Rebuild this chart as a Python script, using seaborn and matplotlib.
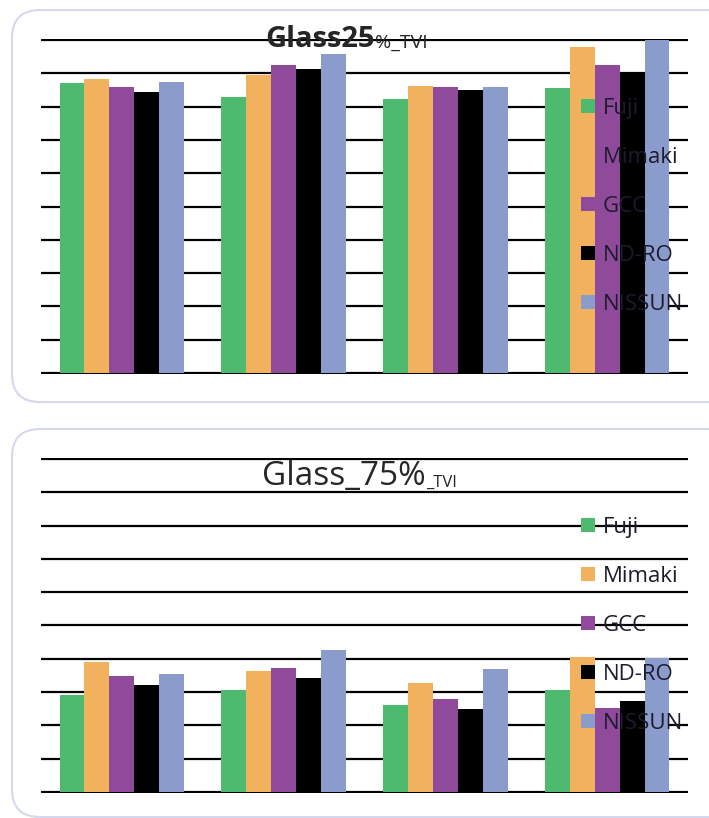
import numpy as np
import pandas as pd
import seaborn as sns
import matplotlib.pyplot as plt
from matplotlib.patches import Patch, FancyBboxPatch

# data (no axis labels shown, grid = 0..10)
groups = ["G1", "G2", "G3", "G4"]
printers = ["Fuji", "Mimaki", "GCC", "ND-RO", "NISSUN"]
colors = ["#4dba70", "#f2b15c", "#8f4a9b", "#000000", "#8b9bcc"]

fuji_25 = [8.72, 8.30, 8.24, 8.57]
mimaki_25 = [8.84, 8.95, 8.63, 9.78]
gcc_25 = [8.60, 9.25, 8.60, 9.25]
ndro_25 = [8.45, 9.12, 8.51, 9.05]
nissun_25 = [8.75, 9.59, 8.60, 10.0]

fuji_75 = [2.90, 3.06, 2.61, 3.06]
mimaki_75 = [3.91, 3.63, 3.27, 4.06]
gcc_75 = [3.48, 3.73, 2.80, 2.53]
ndro_75 = [3.21, 3.43, 2.49, 2.73]
nissun_75 = [3.55, 4.25, 3.70, 4.03]


def make_df(series):
    rows = []
    for name, vals in zip(printers, series):
        for g, v in zip(groups, vals):
            rows.append({"group": g, "printer": name, "tvi": v})
    return pd.DataFrame(rows)


df25 = make_df([fuji_25, mimaki_25, gcc_25, ndro_25, nissun_25])
df75 = make_df([fuji_75, mimaki_75, gcc_75, ndro_75, nissun_75])

sns.set_style("white")
plt.rcParams['font.family'] = ['Open Sans', 'DejaVu Sans']

fig = plt.figure(figsize=(7.09, 8.18), dpi=100)

# rounded panel borders
for y0, h in [(4.16, 3.92), (0.01, 3.88)]:
    fig.add_artist(FancyBboxPatch((0.12, y0), 7.3, h,
                                  boxstyle="round,pad=0,rounding_size=0.28",
                                  transform=fig.dpi_scale_trans,
                                  facecolor="none", edgecolor="#d5d8ee",
                                  linewidth=1.5, zorder=0))

ax1 = fig.add_axes([0.0578, 0.5428, 0.9126, 0.4095])
ax2 = fig.add_axes([0.0578, 0.0306, 0.9126, 0.4095])

handles = [Patch(facecolor=c, edgecolor="none") for c in colors]

for ax, df in [(ax1, df25), (ax2, df75)]:
    sns.barplot(data=df, x="group", y="tvi", hue="printer",
                palette=colors, width=0.77, saturation=1,
                linewidth=0, legend=False, ax=ax)
    ax.set_facecolor("none")
    ax.set_xlim(-0.5, 3.5)
    ax.set_ylim(-0.03, 10.03)
    ax.set_yticks(range(11))
    ax.set_axisbelow(True)
    ax.yaxis.grid(True, color="black", linewidth=1.6)
    ax.xaxis.grid(False)
    ax.tick_params(length=0, labelbottom=False, labelleft=False)
    ax.set_xlabel("")
    ax.set_ylabel("")
    sns.despine(ax=ax, left=True, bottom=True)
    # legend sits on top of the bars, as in the original
    ax.legend(handles, printers, loc="center left",
              bbox_to_anchor=(0.834, 0.5), frameon=False,
              fontsize=16, handlelength=0.63, handleheight=0.63,
              handletextpad=0.36, labelspacing=1.26,
              borderpad=0, borderaxespad=0, labelcolor="#1c1c2c")

# titles with the small "_TVI" part
t1 = fig.text(265 / 709, (818 - 47) / 818, "Glass25", fontsize=21,
              fontweight="bold", va="baseline", ha="left")
ax1.annotate("%_TVI", xy=(1, 0.2), xycoords=t1, fontsize=14,
             va="baseline", ha="left", annotation_clip=False)
t2 = fig.text(262 / 709, (818 - 485) / 818, "Glass_75%", fontsize=24,
              va="baseline", ha="left")
ax2.annotate("_TVI", xy=(1, 0.2), xycoords=t2, fontsize=12,
             va="baseline", ha="left", annotation_clip=False)

plt.savefig("out.png", dpi=100)
